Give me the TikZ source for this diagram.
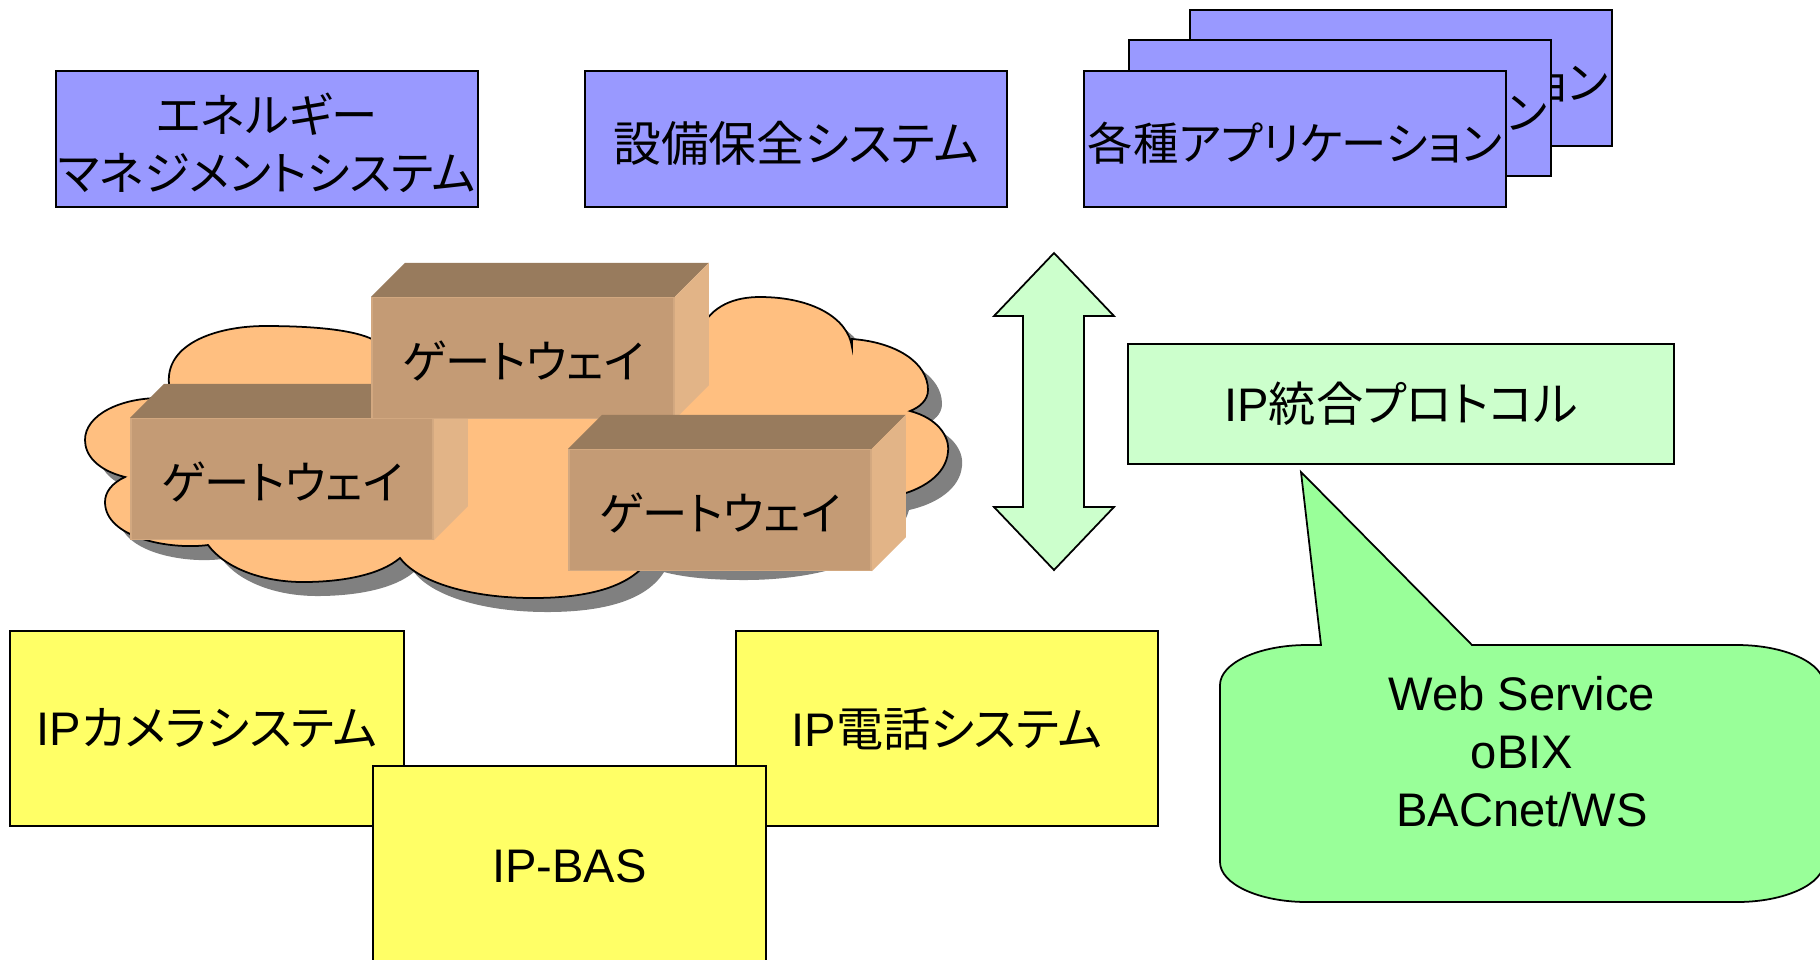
\documentclass[tikz,border=0pt]{standalone}
\usepackage{fontspec}
\setmainfont{Liberation Sans}
\newfontfamily\lat{Liberation Sans}
\newfontfamily\jp{Noto Sans CJK JP}[RawFeature=+palt]
\newcommand\txtsize{\fontsize{13.4pt}{16.5pt}\selectfont}
% push a text down by half of the extra height that it reports
\newcommand\dn[2][0.08cm]{\raisebox{0pt}[\dimexpr\height+#1\relax][\depth]{#2}}
\definecolor{boxblue}{RGB}{153,153,255}
\definecolor{boxyellow}{RGB}{255,255,102}
\definecolor{palegreen}{RGB}{204,255,204}
\definecolor{calloutgreen}{RGB}{153,255,153}
\definecolor{cloudfill}{RGB}{255,191,128}
\definecolor{shadowgray}{RGB}{128,128,128}
\definecolor{gwfront}{RGB}{196,155,117}
\definecolor{gwedge}{RGB}{210,168,128}
\definecolor{gwtop}{RGB}{152,123,93}
\definecolor{gwside}{RGB}{226,180,135}
\tikzset{
  jpfont/.style={font=\fontsize{#1}{16.5pt}\selectfont\jp},
  box/.style={draw=black, line width=0.6pt, inner sep=0pt, align=center, font=\txtsize\jp},
  bluebox/.style={box, fill=boxblue, minimum width=4.22cm, minimum height=1.36cm},
  yellowbox/.style={box, fill=boxyellow, minimum height=1.95cm},
  gwbox/.style={fill=gwfront, draw=gwedge, line width=0.4pt, inner sep=0pt, jpfont=12.9pt, minimum width=3.02cm, minimum height=1.21cm},
  outl/.style={draw=black, line width=0.5pt, line join=miter},
}
\newcommand\gwfaces[1]{%
  \fill[gwtop] (#1.north west) -- ([shift={(34,-34)}]#1.north west) -- ([shift={(34,-34)}]#1.north east) -- (#1.north east) -- cycle;
  \fill[gwside] (#1.north east) -- ([shift={(34,-34)}]#1.north east) -- ([shift={(34,-34)}]#1.south east) -- (#1.south east) -- cycle;
}
\newcommand\cloudpath{(170,390)
 .. controls (160,345) and (215,326) .. (265,326)
 .. controls (315,326) and (355,330) .. (374,340)
 -- (700,330)
 .. controls (712,305) and (735,297) .. (760,297)
 .. controls (812,297) and (848,318) .. (852,347)
 -- (852,339)
 .. controls (895,342) and (928,362) .. (928,390)
 .. controls (928,400) and (920,407) .. (910,411)
 .. controls (937,418) and (950,436) .. (948,452)
 .. controls (946,475) and (922,490) .. (895,496)
 .. controls (880,548) and (800,566) .. (730,566)
 .. controls (690,566) and (665,562) .. (650,558)
 .. controls (630,590) and (580,598) .. (533,598)
 .. controls (470,598) and (418,582) .. (400,558)
 .. controls (380,575) and (342,582) .. (303,582)
 .. controls (262,582) and (225,568) .. (208,545)
 .. controls (170,550) and (105,538) .. (105,502)
 .. controls (105,492) and (112,483) .. (125,477)
 .. controls (97,470) and (85,455) .. (85,440)
 .. controls (85,415) and (120,398) .. (160,398)
 -- cycle}
\begin{document}
\begin{tikzpicture}[x=0.01cm, y=-0.01cm]
\useasboundingbox (0,0) rectangle (1820,959);
\fill[white] (0,0) rectangle (1820,959);

% top row
\node[bluebox, jpfont=13.2pt] (ems) at (267,139) {\dn{\parbox{4.2cm}{\centering エネルギー\\マネジメントシステム}}};
\node[bluebox, jpfont=13.6pt] (maint) at (796,139) {\dn{設備保全システム}};
\node[bluebox, jpfont=12.9pt] (app3) at (1401,78) {\dn{各種アプリケーション}};
\node[bluebox, jpfont=12.9pt] (app2) at (1340,108) {\dn{各種アプリケーション}};
\node[bluebox, jpfont=12.9pt] (app1) at (1295,139) {\dn{各種アプリケーション}};

% cloud with shadow
\fill[shadowgray, shift={(14,14)}] \cloudpath;
\filldraw[outl, fill=cloudfill] \cloudpath;

% gateways
\node[gwbox] (gwL) at (282,479) {\dn[0.06cm]{ゲートウェイ}};
\gwfaces{gwL}
\node[gwbox] (gwT) at (523,358) {\dn[0.06cm]{ゲートウェイ}};
\gwfaces{gwT}
\node[gwbox] (gwR) at (720,510) {\dn[0.06cm]{ゲートウェイ}};
\gwfaces{gwR}

% double arrow
\draw[outl, fill=palegreen] (1054,253) -- (1114,316) -- (1084,316) -- (1084,507) -- (1114,507) -- (1054,570)
  -- (994,507) -- (1023,507) -- (1023,316) -- (994,316) -- cycle;

% protocol box
\node[box, fill=palegreen, minimum width=5.46cm, minimum height=1.20cm] (proto) at (1401,404) {{\lat IP}統合プロトコル};

% callout
\draw[outl, fill=calloutgreen] (1321,645) -- (1301,472) -- (1472,645) -- (1737,645)
  .. controls (1785,645) and (1824,663) .. (1824,685) -- (1824,862)
  .. controls (1824,884) and (1785,902) .. (1737,902) -- (1307,902)
  .. controls (1259,902) and (1220,884) .. (1220,862) -- (1220,685)
  .. controls (1220,663) and (1259,645) .. (1307,645) -- cycle;
\node[align=center, font=\txtsize\lat, inner sep=0pt] (svc) at (1522,752) {Web Service\\oBIX\\BACnet/WS};

% bottom row
\node[yellowbox, minimum width=3.94cm] (cam) at (207,728.5) {{\lat IP}カメラシステム};
\node[yellowbox, minimum width=4.22cm] (tel) at (947,728.5) {{\lat IP}電話システム};
\node[yellowbox, minimum width=3.93cm, minimum height=2.0cm] (bas) at (569.5,866) {{\lat IP-BAS}};
\end{tikzpicture}
\end{document}
